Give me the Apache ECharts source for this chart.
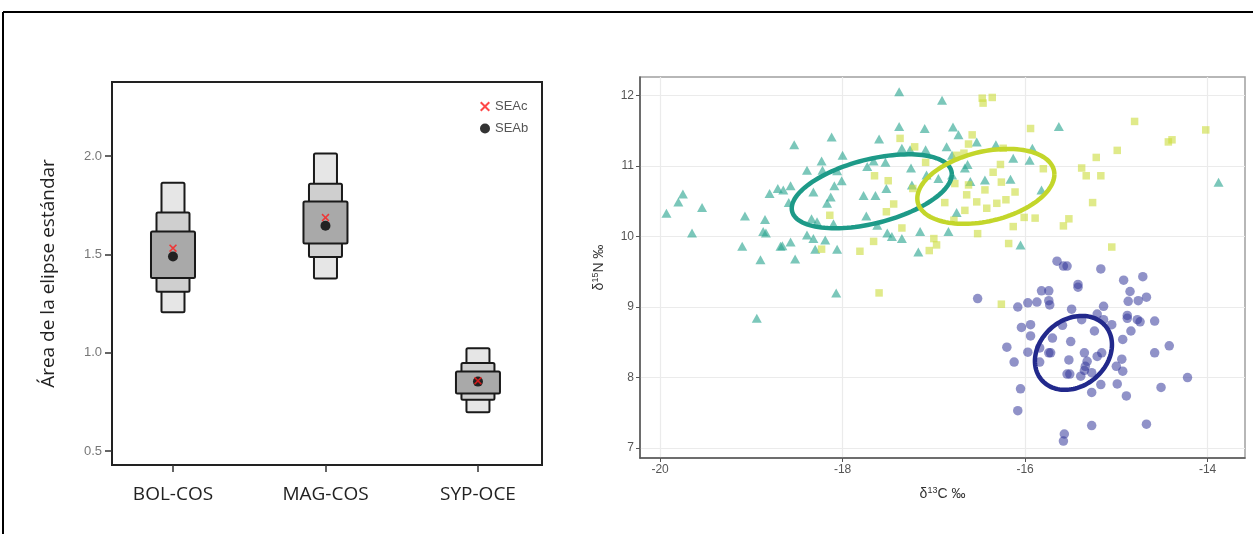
<!DOCTYPE html>
<html>
<head>
<meta charset="utf-8">
<script src="https://cdn.jsdelivr.net/npm/echarts@6/dist/echarts.min.js"></script>
<style>
  html, body { margin: 0; padding: 0; background: #fff; }
  #chart { width: 1253px; height: 534px; }
</style>
</head>
<body>
<div id="chart"></div>
<script>
// ---- Left panel: standard ellipse area (SEA) credible intervals ----
const categories = ['BOL-COS', 'MAG-COS', 'SYP-OCE'];
const ci95Low  = [1.205, 1.377, 0.697];
const ci95High = [1.864, 2.012, 1.022];
const ci75Low  = [1.310, 1.487, 0.761];
const ci75High = [1.712, 1.859, 0.948];
const ci50Low  = [1.379, 1.555, 0.793];
const ci50High = [1.616, 1.768, 0.904];
const seaB = [1.489, 1.645, 0.853];
const seaC = [1.531, 1.687, 0.857];
const seaTicks = [0.5, 1.0, 1.5, 2.0];

// ---- Right panel: isotope biplot (d13C, d15N) ----
const d13cTicks = [-20, -18, -16, -14];
const d15nTicks = [7, 8, 9, 10, 11, 12];

const triangles = [
  [-19.75,10.60],[-19.80,10.49],[-19.93,10.33],[-19.54,10.41],[-19.65,10.05],
  [-19.07,10.29],[-18.85,10.24],[-18.87,10.07],[-18.84,10.05],[-19.10,9.86],
  [-18.90,9.67],[-18.68,9.86],[-18.66,9.87],[-18.57,9.92],[-18.52,9.68],
  [-18.80,10.61],[-18.71,10.68],[-18.65,10.66],[-18.57,10.72],[-18.39,10.94],
  [-18.23,11.07],[-18.22,10.94],[-18.32,10.63],[-18.13,10.56],[-18.09,10.72],
  [-18.59,10.48],[-18.34,10.25],[-18.28,10.21],[-18.10,10.18],[-18.39,10.02],
  [-18.32,9.97],[-18.19,9.95],[-18.30,9.82],[-18.06,9.82],[-18.07,9.20],
  [-18.94,8.84],
  [-17.38,12.05],[-17.38,11.56],[-18.12,11.41],[-18.53,11.30],[-17.60,11.38],
  [-18.00,11.15],[-18.06,10.93],[-17.66,11.07],[-17.53,11.05],[-17.35,11.25],
  [-17.26,11.23],[-17.25,10.97],[-17.73,10.99],[-17.52,10.68],[-17.24,10.73],
  [-17.77,10.58],[-17.64,10.58],[-17.74,10.29],[-17.62,10.16],[-17.51,10.05],
  [-17.46,10.00],[-17.35,9.97],[-18.01,10.79],[-18.17,10.47],
  [-16.91,11.93],[-17.10,11.53],[-16.79,11.55],[-16.73,11.44],[-16.53,11.34],
  [-16.32,11.30],[-16.86,11.27],[-17.09,11.23],[-16.80,11.15],[-16.63,11.02],
  [-16.13,11.11],[-17.08,10.87],[-16.95,10.82],[-16.80,10.87],[-16.66,10.97],
  [-16.60,10.78],[-16.44,10.80],[-16.16,10.81],[-17.15,10.07],[-16.84,10.07],
  [-16.75,10.34],[-17.17,9.78],[-16.05,9.88],
  [-15.63,11.56],[-15.92,11.25],[-15.95,11.08],[-15.82,10.66],[-13.88,10.77]
];

const squares = [
  [-18.14,10.30],[-18.23,9.82],
  [-17.37,11.39],[-17.65,10.86],[-17.50,10.79],[-17.44,10.46],[-17.52,10.35],
  [-17.35,10.12],[-17.66,9.93],[-17.81,9.79],[-17.60,9.20],
  [-16.47,11.96],[-16.36,11.97],[-16.46,11.89],[-16.58,11.44],[-16.62,11.31],
  [-17.21,11.27],[-16.24,11.25],[-16.75,11.15],[-16.67,11.18],[-17.09,11.05],
  [-16.27,11.02],[-16.35,10.91],[-16.77,10.75],[-16.62,10.73],[-16.26,10.77],
  [-17.23,10.68],[-16.64,10.59],[-16.44,10.66],[-16.11,10.63],[-16.88,10.48],
  [-16.53,10.49],[-16.42,10.40],[-16.31,10.47],[-16.21,10.52],[-16.66,10.37],
  [-16.78,10.23],[-16.13,10.14],[-16.01,10.27],[-16.52,10.04],[-17.00,9.97],
  [-16.97,9.88],[-17.05,9.80],[-16.18,9.90],
  [-15.94,11.53],[-14.80,11.63],[-14.02,11.51],[-14.43,11.34],[-14.39,11.37],
  [-14.99,11.22],[-15.22,11.12],[-15.38,10.97],[-15.33,10.86],[-15.17,10.86],
  [-15.80,10.96],[-15.26,10.48],[-15.89,10.26],[-15.52,10.25],[-15.58,10.15],
  [-15.05,9.85],[-16.26,9.04]
];

const circles = [
  [-16.52,9.12],[-15.65,9.65],[-15.58,9.58],[-15.54,9.58],[-15.17,9.54],
  [-14.92,9.38],[-14.71,9.43],[-14.85,9.22],[-14.67,9.14],[-14.76,9.09],
  [-14.87,9.08],[-15.42,9.32],[-15.42,9.28],[-15.82,9.23],[-15.74,9.23],
  [-15.74,9.09],[-15.73,9.03],[-15.97,9.06],[-15.87,9.07],[-16.08,9.00],
  [-15.49,8.97],[-15.14,9.01],[-15.21,8.90],[-14.88,8.88],[-14.88,8.84],
  [-14.77,8.82],[-14.74,8.79],[-14.58,8.80],[-15.38,8.82],[-15.14,8.82],
  [-15.05,8.75],[-16.04,8.71],[-15.94,8.75],[-15.59,8.74],[-15.24,8.66],
  [-14.84,8.66],[-15.94,8.59],[-15.70,8.56],[-15.50,8.51],[-14.93,8.54],
  [-14.42,8.45],[-16.20,8.43],[-15.84,8.42],[-15.97,8.36],[-15.74,8.35],
  [-15.72,8.35],[-15.35,8.35],[-15.16,8.35],[-14.58,8.35],[-16.12,8.22],
  [-15.84,8.22],[-15.52,8.25],[-15.32,8.23],[-15.21,8.30],[-14.94,8.26],
  [-15.34,8.16],[-15.35,8.10],[-15.00,8.16],[-14.93,8.09],[-15.54,8.05],
  [-15.51,8.05],[-15.39,8.02],[-15.27,8.07],[-14.22,8.00],[-15.17,7.90],
  [-14.99,7.91],[-16.05,7.84],[-14.51,7.86],[-15.27,7.79],[-14.89,7.74],
  [-16.08,7.53],[-15.27,7.32],[-14.67,7.34],[-15.57,7.20],[-15.58,7.10]
];

// Standard ellipses: centre (x, y) and covariance (sxx, sxy, syy)
const ellipseTeal   = [-17.68, 10.64, 0.7695, 0.2112, 0.2747];
const ellipseYellow = [-16.43, 10.71, 0.5641, 0.1277, 0.2821];
const ellipseBlue   = [-15.47,  8.35, 0.1782, 0.0489, 0.2747];

const chart = echarts.init(document.getElementById('chart'), null, { renderer: 'canvas' });

function boxSeries(name, lows, highs, halfWidth, fill) {
  return {
    name: name,
    type: 'custom',
    xAxisIndex: 0, yAxisIndex: 0,
    data: lows.map((lo, i) => [i + 1, lo, highs[i]]),
    renderItem: function (params, api) {
      const lo = api.coord([api.value(0), api.value(1)]);
      const hi = api.coord([api.value(0), api.value(2)]);
      return {
        type: 'rect',
        shape: { x: lo[0] - halfWidth, y: hi[1], width: halfWidth * 2, height: lo[1] - hi[1], r: 1.5 },
        style: { fill: fill, stroke: '#1a1a1a', lineWidth: 2 }
      };
    },
    z: 2
  };
}

function ellipseSeries(params, color) {
  return {
    type: 'custom',
    xAxisIndex: 1, yAxisIndex: 1,
    data: [params],
    renderItem: function (p, api) {
      const cx = api.value(0), cy = api.value(1);
      const sxx = api.value(2), sxy = api.value(3), syy = api.value(4);
      const l11 = Math.sqrt(sxx), l21 = sxy / l11, l22 = Math.sqrt(syy - l21 * l21);
      const pts = [];
      for (let k = 0; k <= 120; k++) {
        const t = k / 120 * Math.PI * 2;
        const u = Math.cos(t), v = Math.sin(t);
        pts.push(api.coord([cx + l11 * u, cy + l21 * u + l22 * v]));
      }
      return {
        type: 'polyline',
        shape: { points: pts },
        style: { fill: null, stroke: color, lineWidth: 4.5 }
      };
    },
    z: 5
  };
}

const xMark = 'path://M0,1.4 L1.4,0 L5,3.6 L8.6,0 L10,1.4 L6.4,5 L10,8.6 L8.6,10 L5,6.4 L1.4,10 L0,8.6 L3.6,5 Z';

const option = {
  animation: false,
  backgroundColor: '#ffffff',
  graphic: [
    { type: 'line', shape: { x1: 3, y1: 12, x2: 1253, y2: 12 }, style: { stroke: '#000', lineWidth: 2 } },
    { type: 'line', shape: { x1: 3, y1: 12, x2: 3, y2: 534 }, style: { stroke: '#000', lineWidth: 2 } }
  ],
  legend: {
    left: 475, top: 95, orient: 'vertical',
    itemWidth: 10, itemHeight: 10, itemGap: 9,
    textStyle: { fontFamily: 'Liberation Sans', fontSize: 13, color: '#555' },
    data: [
      { name: 'SEAc', icon: xMark },
      { name: 'SEAb', icon: 'circle' }
    ]
  },
  grid: [
    { left: 112, top: 82, width: 430, height: 383, show: true, borderColor: '#222', borderWidth: 2, backgroundColor: '#fff' },
    { left: 640, top: 77, width: 605, height: 381, show: true, borderColor: '#a0a0a0', borderWidth: 1.5, backgroundColor: '#fff' }
  ],
  xAxis: [
    {
      gridIndex: 0, type: 'value', min: 0.6, max: 3.42,
      axisLine: { show: false },
      axisTick: { show: true, length: 7, customValues: [1, 2, 3], lineStyle: { color: '#333', width: 1.5 } },
      axisLabel: {
        customValues: [1, 2, 3], margin: 20,
        formatter: v => categories[Math.round(v) - 1],
        fontFamily: 'Open Sans', fontSize: 19, color: '#222'
      },
      splitLine: { show: false }
    },
    {
      gridIndex: 1, type: 'value', min: -20.22, max: -13.59,
      name: 'δ{sup|13}C ‰', nameLocation: 'middle', nameGap: 28,
      nameTextStyle: {
        fontFamily: 'Liberation Sans', fontSize: 14, color: '#333',
        rich: { sup: { fontSize: 9, verticalAlign: 'top', padding: [0, 0, 8, 0], color: '#333' } }
      },
      axisLine: { show: true, lineStyle: { color: '#555', width: 1.5 } },
      axisTick: { show: true, length: 4, customValues: d13cTicks, lineStyle: { color: '#555' } },
      axisLabel: { customValues: d13cTicks, margin: 6, fontFamily: 'Liberation Sans', fontSize: 12, color: '#555' },
      splitLine: { show: true, lineStyle: { color: '#ebebeb', width: 1.2 } }
    }
  ],
  yAxis: [
    {
      gridIndex: 0, type: 'value', min: 0.429, max: 2.376,
      name: 'Área de la elipse estándar', nameLocation: 'middle', nameGap: 54,
      nameTextStyle: { fontFamily: 'Open Sans', fontSize: 19, color: '#222' },
      axisLine: { show: false },
      axisTick: { show: true, length: 7, customValues: seaTicks, lineStyle: { color: '#333', width: 1.5 } },
      axisLabel: { customValues: seaTicks, margin: 10, formatter: v => v.toFixed(1), fontFamily: 'Liberation Sans', fontSize: 13, color: '#777' },
      splitLine: { show: false }
    },
    {
      gridIndex: 1, type: 'value', min: 6.86, max: 12.26,
      name: 'δ{sup|15}N ‰', nameLocation: 'middle', nameGap: 32,
      nameTextStyle: {
        fontFamily: 'Liberation Sans', fontSize: 14, color: '#333',
        rich: { sup: { fontSize: 9, verticalAlign: 'top', padding: [0, 0, 8, 0], color: '#333' } }
      },
      axisLine: { show: true, lineStyle: { color: '#555', width: 1.5 } },
      axisTick: { show: true, length: 4, customValues: d15nTicks, lineStyle: { color: '#555' } },
      axisLabel: { customValues: d15nTicks, margin: 6, fontFamily: 'Liberation Sans', fontSize: 12, color: '#555' },
      splitLine: { show: true, lineStyle: { color: '#ebebeb', width: 1.2 } }
    }
  ],
  series: [
    boxSeries('95%', ci95Low, ci95High, 11.5, '#e6e6e6'),
    boxSeries('75%', ci75Low, ci75High, 16.5, '#cfcfcf'),
    boxSeries('50%', ci50Low, ci50High, 22, '#a9a9a9'),
    {
      name: 'SEAb', type: 'scatter', xAxisIndex: 0, yAxisIndex: 0,
      symbol: 'circle', symbolSize: 10,
      itemStyle: { color: '#000' },
      data: seaB.map((v, i) => [i + 1, v]), z: 4
    },
    {
      name: 'SEAc', type: 'scatter', xAxisIndex: 0, yAxisIndex: 0,
      symbol: xMark, symbolSize: 8,
      itemStyle: { color: '#ff1a1a' },
      data: seaC.map((v, i) => [i + 1, v]), z: 5
    },
    {
      type: 'scatter', xAxisIndex: 1, yAxisIndex: 1,
      symbol: 'triangle', symbolSize: [10, 9],
      itemStyle: { color: '#2aa58f', opacity: 0.62 },
      data: triangles, z: 3
    },
    {
      type: 'scatter', xAxisIndex: 1, yAxisIndex: 1,
      symbol: 'rect', symbolSize: 7.5,
      itemStyle: { color: '#cbdc3c', opacity: 0.6 },
      data: squares, z: 3
    },
    {
      type: 'scatter', xAxisIndex: 1, yAxisIndex: 1,
      symbol: 'circle', symbolSize: 9.5,
      itemStyle: { color: '#34399a', opacity: 0.55 },
      data: circles, z: 3
    },
    ellipseSeries(ellipseTeal, '#1d9a88'),
    ellipseSeries(ellipseYellow, '#c3d62b'),
    ellipseSeries(ellipseBlue, '#22298c')
  ]
};

chart.setOption(option);
</script>
</body>
</html>
